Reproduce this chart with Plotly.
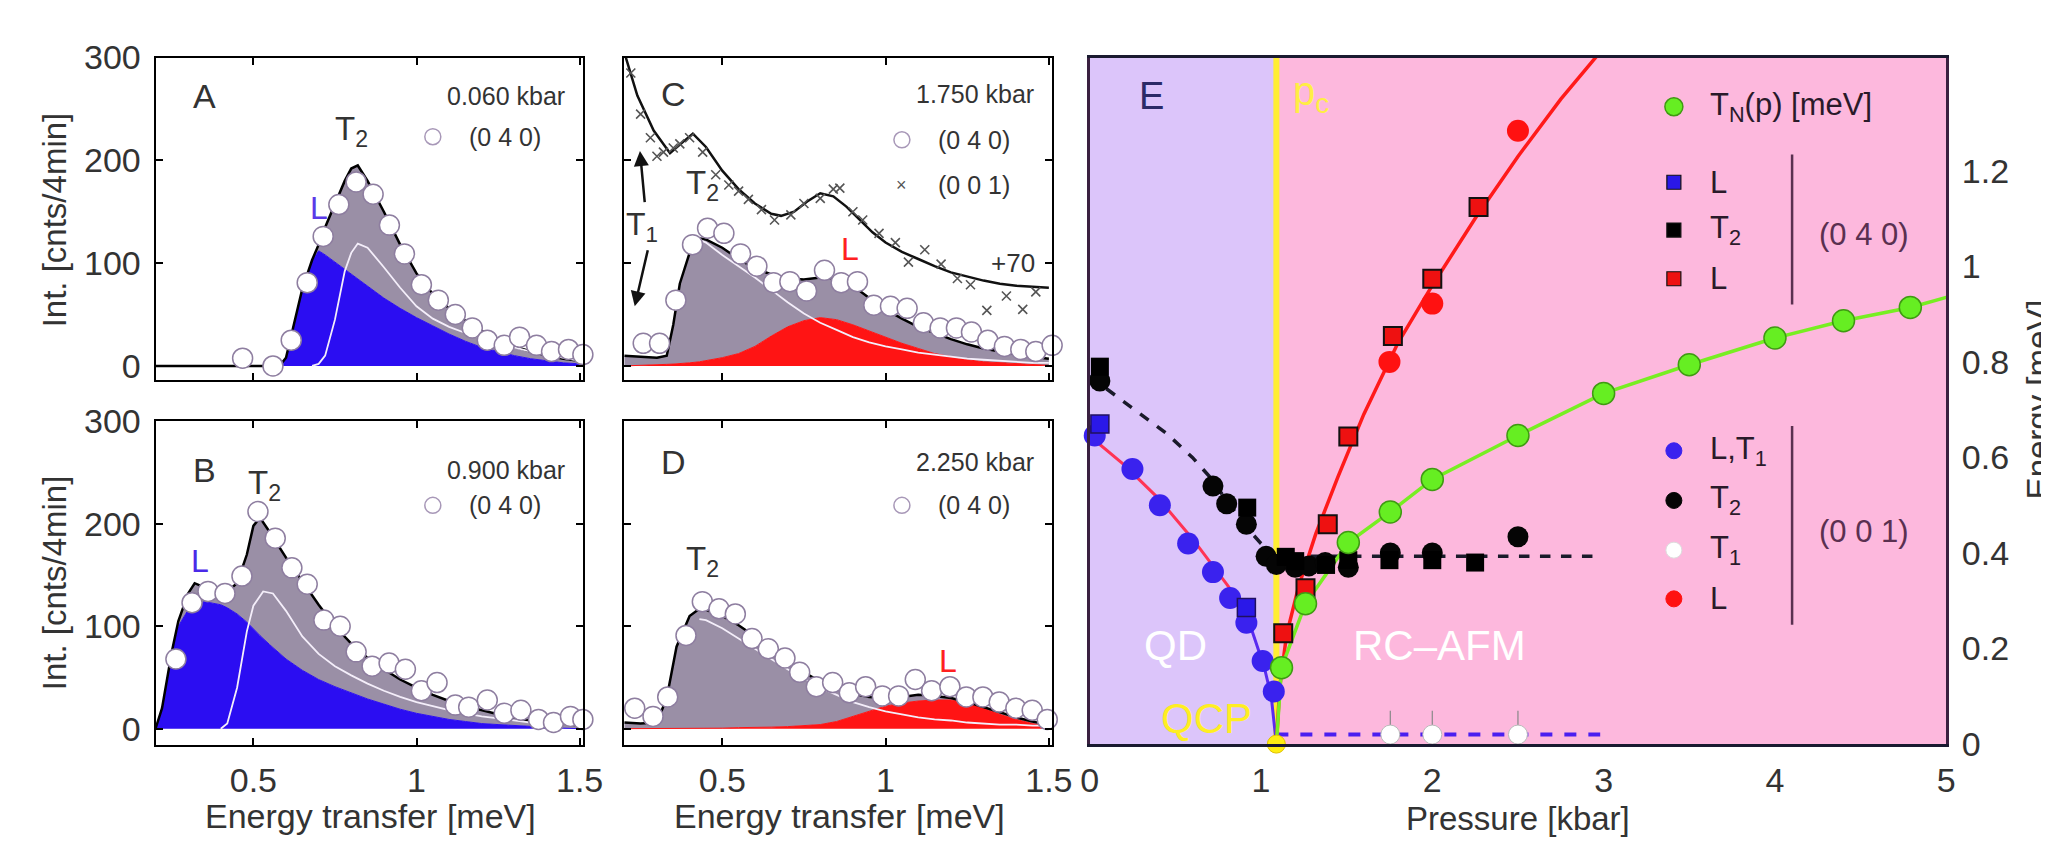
import plotly.graph_objects as go

W, H = 2049, 842
FONT = "Liberation Sans, Arial, sans-serif"
TXT = "#333333"

def px(x): return x / W
def py(y): return 1 - y / H

# ---------------- Panel A (0.060 kbar) ----------------
a_e     = [0.2, 0.3, 0.4, 0.5, 0.55, 0.58, 0.6, 0.62, 0.65, 0.68, 0.7, 0.72, 0.75, 0.78, 0.8, 0.82, 0.85, 0.9, 0.95, 1.0, 1.05, 1.1, 1.15, 1.2, 1.25, 1.3, 1.35, 1.4, 1.45, 1.5]
a_total = [0, 0, 0, 0, 0, 0, 8, 35, 75, 103, 118, 135, 158, 180, 192, 195, 180, 150, 118, 90, 70, 56, 44, 34, 26, 19, 14, 10, 7, 5]
a_L     = [0, 0, 0, 0, 0, 0, 8, 35, 75, 102, 112, 108, 101, 94, 89, 85, 78, 66, 56, 47, 39, 31, 24, 18, 14, 10, 7, 5, 3, 2]
a_t2_e  = [0.68, 0.7, 0.72, 0.75, 0.78, 0.8, 0.82, 0.85, 0.9, 0.95, 1.0, 1.05, 1.1, 1.15, 1.2, 1.25, 1.3, 1.35, 1.4, 1.45, 1.5]
a_t2    = [0, 2, 10, 45, 92, 110, 119, 115, 96, 76, 58, 46, 38, 32, 27, 22, 18, 14, 11, 8, 5]
a_pts_e = [0.467, 0.56, 0.616, 0.665, 0.714, 0.762, 0.815, 0.867, 0.917, 0.963, 1.015, 1.067, 1.119, 1.171, 1.217, 1.269, 1.316, 1.368, 1.414, 1.466, 1.51]
a_pts_i = [7.5, 0, 25, 81, 126, 157, 179, 167, 137, 109, 79, 64, 50, 37, 25, 20, 28, 20, 14, 16, 11]

# ---------------- Panel B (0.900 kbar) ----------------
b_e     = [0.2, 0.22, 0.25, 0.27, 0.3, 0.32, 0.35, 0.4, 0.42, 0.45, 0.48, 0.5, 0.52, 0.55, 0.6, 0.65, 0.7, 0.75, 0.8, 0.85, 0.9, 0.95, 1.0, 1.05, 1.1, 1.15, 1.2, 1.25, 1.3, 1.35, 1.4, 1.45, 1.5]
b_total = [0, 20, 75, 105, 132, 142, 138, 133, 134, 142, 170, 198, 206, 192, 167, 144, 121, 100, 83, 69, 58, 48, 40, 33, 27, 22, 18, 14, 11, 8, 6, 4, 3]
b_L     = [0, 20, 75, 100, 116, 121, 124, 121, 118, 112, 104, 97, 91, 82, 68, 57, 48, 41, 35, 29, 24, 19, 15, 12, 9, 7, 5, 4, 3, 2, 1, 0.5, 0]
b_t2_e  = [0.4, 0.42, 0.45, 0.48, 0.5, 0.53, 0.56, 0.6, 0.65, 0.7, 0.75, 0.8, 0.85, 0.9, 0.95, 1.0, 1.05, 1.1, 1.15, 1.2, 1.25, 1.3, 1.35, 1.4, 1.45, 1.5]
b_t2    = [0, 5, 40, 95, 120, 134, 132, 115, 90, 73, 61, 52, 44, 37, 31, 26, 22, 18, 15, 12, 10, 8, 6, 5, 4, 3]
b_pts_e = [0.2625, 0.312, 0.361, 0.413, 0.465, 0.514, 0.567, 0.618, 0.665, 0.716, 0.766, 0.815, 0.864, 0.916, 0.966, 1.015, 1.063, 1.119, 1.16, 1.217, 1.269, 1.32, 1.374, 1.42, 1.472, 1.51]
b_pts_i = [68, 123, 134, 132, 149, 212, 186, 157, 141, 106, 100, 75, 61, 64, 58, 37, 45, 23, 21, 28, 15, 18, 9, 6, 12, 9]

# ---------------- Panel C (1.750 kbar) ----------------
c_e     = [0.2, 0.25, 0.3, 0.33, 0.35, 0.37, 0.4, 0.43, 0.45, 0.5, 0.55, 0.6, 0.65, 0.7, 0.75, 0.8, 0.85, 0.9, 0.95, 1.0, 1.05, 1.1, 1.15, 1.2, 1.25, 1.3, 1.35, 1.4, 1.45, 1.5]
c_total = [10, 9, 8, 10, 40, 80, 110, 124, 123, 115, 104, 95, 89, 85, 84, 86, 85, 78, 66, 55, 46, 38, 32, 26, 21, 17, 14, 11, 9, 7]
c_L     = [0, 0.3, 1, 1.5, 1.8, 2, 3, 4, 5, 8, 12, 19, 29, 38, 44, 47, 45, 40, 34, 28, 22, 17, 12, 9, 6, 4, 3, 2, 1, 0.5]
c_t2_e  = [0.43, 0.45, 0.5, 0.55, 0.6, 0.65, 0.7, 0.75, 0.8, 0.85, 0.9, 0.95, 1.0, 1.05, 1.1, 1.15, 1.2, 1.25, 1.3, 1.35, 1.4, 1.45, 1.5]
c_t2    = [123, 120, 108, 97, 86, 74, 62, 51, 42, 35, 28, 23, 19, 16, 13, 11, 9, 7, 6, 5, 4, 3, 3]
c_pts_e = [0.258, 0.308, 0.358, 0.409, 0.455, 0.505, 0.556, 0.606, 0.657, 0.707, 0.758, 0.813, 0.864, 0.914, 0.964, 1.015, 1.066, 1.116, 1.167, 1.217, 1.263, 1.313, 1.364, 1.414, 1.46, 1.51]
c_pts_i = [22, 22, 64, 118, 134, 129, 109, 97, 81, 82, 73, 93, 81, 82, 59, 58, 56, 42, 37, 37, 33, 25, 19, 16, 14, 20]
# (0 0 1) scan, shifted by +70
c_fit001_e = [0.2, 0.24, 0.29, 0.34, 0.38, 0.41, 0.45, 0.5, 0.55, 0.6, 0.65, 0.68, 0.72, 0.76, 0.8, 0.84, 0.88, 0.92, 0.96, 1.0, 1.05, 1.1, 1.15, 1.2, 1.25, 1.3, 1.35, 1.4, 1.45, 1.5]
c_fit001_i = [305, 263, 229, 207, 218, 226, 213, 190, 172, 158, 148, 146, 150, 160, 168, 165, 155, 142, 130, 120, 111, 104, 97, 91, 87, 83, 80, 78, 77, 76]
c_x001_e = [0.22, 0.25, 0.28, 0.30, 0.32, 0.35, 0.37, 0.40, 0.44, 0.48, 0.52, 0.55, 0.58, 0.62, 0.66, 0.71, 0.75, 0.80, 0.84, 0.86, 0.90, 0.93, 0.98, 1.03, 1.07, 1.12, 1.17, 1.22, 1.26, 1.31, 1.37, 1.42, 1.46]
c_x001_i = [285, 245, 222, 204, 208, 212, 216, 222, 208, 186, 176, 170, 162, 152, 142, 147, 158, 163, 172, 173, 150, 142, 129, 120, 101, 113, 99, 85, 79, 54, 68, 55, 72]

# ---------------- Panel D (2.250 kbar) ----------------
d_e     = [0.2, 0.25, 0.3, 0.33, 0.36, 0.4, 0.43, 0.45, 0.5, 0.55, 0.6, 0.65, 0.7, 0.75, 0.8, 0.85, 0.9, 0.95, 1.0, 1.05, 1.1, 1.15, 1.2, 1.25, 1.3, 1.35, 1.4, 1.45, 1.5]
d_total = [6, 5, 6, 30, 80, 110, 117, 116, 110, 101, 90, 78, 66, 55, 46, 39, 34, 31, 30, 31, 33, 32, 30, 26, 21, 16, 11, 7, 4]
d_L     = [0, 0, 0, 0, 0, 0.5, 0.5, 0.5, 0.5, 1, 1, 1.5, 2, 3, 4, 7, 12, 17, 22, 25, 27, 28, 28, 25, 20, 14, 9, 5, 2]
d_t2_e  = [0.43, 0.45, 0.5, 0.55, 0.6, 0.65, 0.7, 0.75, 0.8, 0.85, 0.9, 0.95, 1.0, 1.05, 1.1, 1.15, 1.2, 1.25, 1.3, 1.35, 1.4, 1.45, 1.5]
d_t2    = [107, 106, 98, 88, 78, 68, 58, 49, 40, 33, 26, 21, 17, 14, 11, 9, 8, 6, 5, 4, 4, 3, 3]
d_pts_e = [0.232, 0.288, 0.333, 0.389, 0.439, 0.49, 0.54, 0.591, 0.641, 0.692, 0.737, 0.788, 0.838, 0.889, 0.939, 0.99, 1.04, 1.091, 1.141, 1.197, 1.247, 1.298, 1.348, 1.399, 1.449, 1.495]
d_pts_i = [20, 12, 31, 91, 124, 117, 112, 88, 78, 69, 55, 41, 45, 35, 41, 32, 32, 48, 37, 41, 31, 31, 26, 20, 18, 9]

# ---------------- Panel E (phase diagram) ----------------
p_c = 1.09
e_blue_fit_p  = [0.0, 0.2, 0.4, 0.6, 0.8, 0.86]
e_blue_fit_E  = [0.645, 0.585, 0.515, 0.43, 0.335, 0.305]
e_blue_fit2_p = [0.86, 0.95, 1.02, 1.06, 1.09]
e_blue_fit2_E = [0.305, 0.235, 0.16, 0.10, 0.0]
e_t2_fit_p = [0.0, 0.15, 0.3, 0.45, 0.6, 0.7, 0.8, 0.9, 1.0, 1.09, 1.5, 2.0, 2.5, 2.95]
e_t2_fit_E = [0.77, 0.73, 0.69, 0.65, 0.60, 0.56, 0.51, 0.46, 0.42, 0.393, 0.393, 0.393, 0.393, 0.393]
e_t1_fit_p = [1.09, 2.98]
e_t1_fit_E = [0.02, 0.02]
e_red_fit_p = [1.09, 1.11, 1.15, 1.22, 1.32, 1.45, 1.6, 1.8, 2.0, 2.25, 2.5, 2.75, 2.96]
e_red_fit_E = [0.0, 0.12, 0.23, 0.33, 0.44, 0.56, 0.69, 0.84, 0.96, 1.10, 1.23, 1.35, 1.44]
e_tn_fit_p = [1.09, 1.12, 1.26, 1.51, 1.755, 2.0, 2.5, 3.0, 3.5, 4.0, 4.4, 4.79, 5.0]
e_tn_fit_E = [0.0, 0.16, 0.294, 0.422, 0.486, 0.554, 0.646, 0.734, 0.794, 0.85, 0.886, 0.914, 0.935]

e_blue_c_p = [0.03, 0.25, 0.41, 0.575, 0.72, 0.82, 0.915, 1.01, 1.075]
e_blue_c_E = [0.646, 0.576, 0.50, 0.42, 0.36, 0.306, 0.254, 0.174, 0.11]
e_blue_s_p = [0.06, 0.915]
e_blue_s_E = [0.67, 0.286]
e_black_c_p = [0.06, 0.72, 0.80, 0.915, 1.03, 1.09, 1.2, 1.28, 1.375, 1.51, 1.755, 2.0, 2.5]
e_black_c_E = [0.76, 0.54, 0.503, 0.46, 0.393, 0.376, 0.37, 0.373, 0.38, 0.37, 0.40, 0.40, 0.434]
e_black_s_p = [0.06, 0.92, 1.145, 1.2, 1.38, 1.51, 1.75, 2.0, 2.25]
e_black_s_E = [0.79, 0.495, 0.392, 0.383, 0.375, 0.385, 0.385, 0.385, 0.38]
e_white_c_p = [1.755, 2.0, 2.5]
e_white_c_E = [0.02, 0.02, 0.02]
e_white_err = [0.05, 0.05, 0.05]
e_red_c_p = [1.75, 2.0, 2.5]
e_red_c_E = [0.80, 0.922, 1.284]
e_red_s_p = [1.13, 1.26, 1.39, 1.51, 1.77, 2.0, 2.27]
e_red_s_E = [0.232, 0.326, 0.46, 0.644, 0.854, 0.974, 1.124]
e_tn_p = [1.12, 1.26, 1.51, 1.755, 2.0, 2.5, 3.0, 3.5, 4.0, 4.4, 4.79]
e_tn_E = [0.16, 0.294, 0.422, 0.486, 0.554, 0.646, 0.734, 0.794, 0.85, 0.886, 0.914]
e_qcp_p = [p_c]
e_qcp_E = [0.0]

GRAY = "#9a8fa6"
BLUE = "#2b0df2"
RED = "#ff1414"

fig = go.Figure()

def add_spectrum(xa, ya, ex, tot, L, comp_col, t2x, t2y, ptx, pty):
    fig.add_trace(go.Scatter(x=ex, y=L, xaxis=xa, yaxis=ya, mode="lines", fill="tozeroy",
                             fillcolor=comp_col, line=dict(color=comp_col, width=1), hoverinfo="skip"))
    fig.add_trace(go.Scatter(x=ex, y=tot, xaxis=xa, yaxis=ya, mode="lines", fill="tonexty",
                             fillcolor=GRAY, line=dict(color="black", width=2.5), hoverinfo="skip"))
    fig.add_trace(go.Scatter(x=t2x, y=t2y, xaxis=xa, yaxis=ya, mode="lines",
                             line=dict(color="#f4eefa", width=1.8), hoverinfo="skip"))
    fig.add_trace(go.Scatter(x=ptx, y=pty, xaxis=xa, yaxis=ya, mode="markers", cliponaxis=False,
                             marker=dict(size=20, color="white", line=dict(color="#8e7ea0", width=1.5))))

add_spectrum("x", "y", a_e, a_total, a_L, BLUE, a_t2_e, a_t2, a_pts_e, a_pts_i)
add_spectrum("x2", "y2", b_e, b_total, b_L, BLUE, b_t2_e, b_t2, b_pts_e, b_pts_i)
fig.add_trace(go.Scatter(x=c_fit001_e, y=c_fit001_i, xaxis="x3", yaxis="y3", mode="lines",
                         line=dict(color="#111111", width=2.5), hoverinfo="skip"))
fig.add_trace(go.Scatter(x=c_x001_e, y=c_x001_i, xaxis="x3", yaxis="y3", mode="markers",
                         marker=dict(symbol="x-thin", size=9, line=dict(color="#555555", width=1.6))))
add_spectrum("x3", "y3", c_e, c_total, c_L, RED, c_t2_e, c_t2, c_pts_e, c_pts_i)
add_spectrum("x4", "y4", d_e, d_total, d_L, RED, d_t2_e, d_t2, d_pts_e, d_pts_i)

def eline(xs, ys, color, width=3, dash=None):
    fig.add_trace(go.Scatter(x=xs, y=ys, xaxis="x5", yaxis="y5", mode="lines",
                             line=dict(color=color, width=width, dash=dash), hoverinfo="skip"))

def emark(xs, ys, symbol, size, color, lcolor, lw=1.5, err=None):
    kw = {}
    if err is not None:
        kw["error_y"] = dict(type="data", array=err, arrayminus=[0] * len(err), color="#888888",
                             thickness=1.2, width=0)
    fig.add_trace(go.Scatter(x=xs, y=ys, xaxis="x5", yaxis="y5", mode="markers", cliponaxis=False,
                             marker=dict(symbol=symbol, size=size, color=color,
                                         line=dict(color=lcolor, width=lw)), **kw))

eline(e_blue_fit_p, e_blue_fit_E, "#ff3355", 3)
eline(e_blue_fit2_p, e_blue_fit2_E, "#5a2af0", 3)
eline(e_t2_fit_p, e_t2_fit_E, "#1a1a2a", 3.5, "dash")
eline(e_t1_fit_p, e_t1_fit_E, "#4a1ef0", 4, "dash")
eline(e_red_fit_p, e_red_fit_E, "#ff1a1a", 3.5)
eline(e_tn_fit_p, e_tn_fit_E, "#77ee22", 3.5)

emark(e_blue_c_p, e_blue_c_E, "circle", 22, "#3a22ee", "#3a22ee", 0)
emark(e_blue_s_p, e_blue_s_E, "square", 18, "#2a18e8", "#201060", 1.5)
emark(e_black_c_p, e_black_c_E, "circle", 21, "#050505", "#050505", 0)
emark(e_black_s_p, e_black_s_E, "square", 18, "#000000", "#000000", 0)
emark(e_white_c_p, e_white_c_E, "circle", 19, "white", "#bbbbbb", 1, e_white_err)
emark(e_red_c_p, e_red_c_E, "circle", 22, "#ff1111", "#ff1111", 0)
emark(e_red_s_p, e_red_s_E, "square", 18, "#ee1111", "#111111", 2)
emark(e_tn_p, e_tn_E, "circle", 22, "#66ee22", "#3f9a12", 1.5)
emark(e_qcp_p, e_qcp_E, "circle", 18, "#ffee11", "#e0c000", 1)

AX = dict(showline=True, linecolor="black", linewidth=2, mirror="ticks", ticks="inside",
          ticklen=7, tickwidth=1.5, tickcolor="black", showgrid=False, zeroline=False,
          tickfont=dict(family=FONT, size=34, color=TXT))
XR = [0.2, 1.51]
xdomL = [px(140.5), px(574)]
xdomR = [px(616), px(1050)]
ydomT = [py(370), py(32)]
ydomB = [py(752), py(413)]
xt = dict(tickvals=[0.5, 1, 1.5], ticktext=["0.5", "1", "1.5"])
yt = dict(tickvals=[0, 100, 200, 300], ticktext=["0", "100", "200", "300"])

layout = dict(
    width=W, height=H, margin=dict(l=0, r=0, t=0, b=0),
    paper_bgcolor="white", plot_bgcolor="white", showlegend=False,
    font=dict(family=FONT, color=TXT, size=30),
    xaxis=dict(AX, domain=xdomL, range=XR, anchor="y", showticklabels=False, **xt),
    yaxis=dict(AX, domain=ydomT, range=[-14, 300], anchor="x", ticklabelstandoff=6, **yt),
    xaxis2=dict(AX, domain=xdomL, range=XR, anchor="y2", ticklabelstandoff=4, **xt),
    yaxis2=dict(AX, domain=ydomB, range=[-16, 300], anchor="x2", ticklabelstandoff=6, **yt),
    xaxis3=dict(AX, domain=xdomR, range=XR, anchor="y3", showticklabels=False, **xt),
    yaxis3=dict(AX, domain=ydomT, range=[-14, 300], anchor="x3", showticklabels=False, **yt),
    xaxis4=dict(AX, domain=xdomR, range=XR, anchor="y4", ticklabelstandoff=4, **xt),
    yaxis4=dict(AX, domain=ydomB, range=[-16, 300], anchor="x4", showticklabels=False, **yt),
    xaxis5=dict(domain=[px(1088), px(1957)], range=[0, 5], anchor="y5", showline=True, mirror=True,
                linecolor="#1a1a30", linewidth=2.5, ticks="", showgrid=False, zeroline=False,
                tickvals=[0, 1, 2, 3, 4, 5], ticktext=["0", "1", "2", "3", "4", "5"],
                ticklabelstandoff=4, tickfont=dict(family=FONT, size=34, color=TXT)),
    yaxis5=dict(domain=[py(751), py(32)], range=[0, 1.437], anchor="x5", side="right",
                showline=True, mirror=True, linecolor="#3a2040", linewidth=2.5, ticks="",
                showgrid=False, zeroline=False,
                tickvals=[0, 0.2, 0.4, 0.6, 0.8, 1.0, 1.2],
                ticktext=["0", "0.2", "0.4", "0.6", "0.8", "1", "1.2"],
                ticklabelstandoff=6, tickfont=dict(family=FONT, size=34, color=TXT)),
)

shapes = []
shapes.append(dict(type="rect", xref="x5", yref="y5", x0=0, x1=p_c, y0=0, y1=1.437,
                   fillcolor="#dcc5fa", line=dict(width=0), layer="below"))
shapes.append(dict(type="rect", xref="x5", yref="y5", x0=p_c, x1=5, y0=0, y1=1.437,
                   fillcolor="#fdb8dd", line=dict(width=0), layer="below"))
shapes.append(dict(type="line", xref="x5", yref="y5", x0=p_c, x1=p_c, y0=0, y1=1.437,
                   line=dict(color="#ffee33", width=6), layer="below"))

def circ(xref, yref, xc, yc, r, fill, lcol, lw=1.5):
    return dict(type="circle", xref=xref, yref=yref, xsizemode="pixel", ysizemode="pixel",
                xanchor=xc, yanchor=yc, x0=-r, x1=r, y0=-r, y1=r,
                fillcolor=fill, line=dict(color=lcol, width=lw))

def sq(xref, yref, xc, yc, r, fill, lcol, lw=1.5):
    d = circ(xref, yref, xc, yc, r, fill, lcol, lw)
    d["type"] = "rect"
    return d

ann = []
def text(t, x, y, xref, yref, size, color=TXT, xanchor="center", yanchor="middle", angle=0):
    ann.append(dict(text=t, x=x, y=y, xref=xref, yref=yref, showarrow=False,
                    font=dict(family=FONT, size=size, color=color),
                    xanchor=xanchor, yanchor=yanchor, textangle=angle))

panels = [("x", "y", "A", "0.060 kbar", 263, 223),
          ("x2", "y2", "B", "0.900 kbar", 253, 218),
          ("x3", "y3", "C", "1.750 kbar", 265, 220),
          ("x4", "y4", "D", "2.250 kbar", 260, 218)]
for xr, yr, letter, kbar, ylab, ycirc in panels:
    text(letter, 0.35, ylab, xr, yr, 34)
    text(kbar, 1.46, ylab, xr, yr, 25, xanchor="right")
    shapes.append(circ(xr, yr, 1.05, ycirc, 8, "white", "#a898b8", 1.5))
    text("(0 4 0)", 1.155, ycirc, xr, yr, 25, xanchor="left")

text("T<sub>2</sub>", 0.80, 229, "x", "y", 33)
text("L", 0.70, 154, "x", "y", 32, color="#5a3ae8")
text("T<sub>2</sub>", 0.534, 238, "x2", "y2", 33)
text("L", 0.335, 164, "x2", "y2", 32, color="#4a2ae8")
text("T<sub>2</sub>", 0.44, 176, "x3", "y3", 33)
text("L", 0.89, 114, "x3", "y3", 32, color="#ff2020")
text("T<sub>2</sub>", 0.44, 164, "x4", "y4", 33)
text("L", 1.19, 66, "x4", "y4", 32, color="#ff2020")
text("+70", 1.465, 100, "x3", "y3", 26, xanchor="right")
text("×", 1.05, 176, "x3", "y3", 18, color="#555555")
text("(0 0 1)", 1.155, 176, "x3", "y3", 25, xanchor="left")
text("T<sub>1</sub>", 0.253, 136, "x3", "y3", 32)
ann.append(dict(x=0.248, y=209, ax=0.263, ay=158, xref="x3", yref="y3", axref="x3", ayref="y3",
                showarrow=True, arrowhead=2, arrowsize=1.2, arrowwidth=2.5, arrowcolor="#111111",
                text="", font=dict(size=10)))
ann.append(dict(x=0.232, y=58, ax=0.273, ay=114, xref="x3", yref="y3", axref="x3", ayref="y3",
                showarrow=True, arrowhead=2, arrowsize=1.2, arrowwidth=2.5, arrowcolor="#111111",
                text="", font=dict(size=10)))

text("Int. [cnts/4min]", px(38), py(202), "paper", "paper", 33, angle=-90)
text("Int. [cnts/4min]", px(38), py(582), "paper", "paper", 33, angle=-90)
text("Energy transfer [meV]", px(359), py(826), "paper", "paper", 34)
text("Energy transfer [meV]", px(834), py(826), "paper", "paper", 34)
text("Pressure [kbar]", px(1523), py(829), "paper", "paper", 33)
text("Energy [meV]", px(2050), py(390), "paper", "paper", 33, angle=-90)

text("E", 0.36, 1.356, "x5", "y5", 38, color="#2b2a66")
text("p<sub>c</sub>", 1.29, 1.36, "x5", "y5", 40, color="#ffee44")
text("QD", 0.5, 0.206, "x5", "y5", 42, color="white")
text("RC–AFM", 2.04, 0.206, "x5", "y5", 42, color="white")
text("QCP", 0.685, 0.054, "x5", "y5", 42, color="#ffee22")

LX, TX = 3.41, 3.61
shapes.append(circ("x5", "y5", LX, 1.334, 9, "#66ee22", "#3f9a12"))
text("T<sub>N</sub>(p) [meV]", TX, 1.334, "x5", "y5", 31, color="#2a1a2a", xanchor="left")
for yy, col, lab in [(1.176, "#2a18e8", "L"), (1.076, "#000000", "T<sub>2</sub>"), (0.974, "#ee1111", "L")]:
    shapes.append(sq("x5", "y5", LX, yy, 7, col, "#111111", 1.2))
    text(lab, TX, yy, "x5", "y5", 31, color="#2a1a2a", xanchor="left")
for yy, col, lab in [(0.614, "#3a22ee", "L,T<sub>1</sub>"), (0.51, "#050505", "T<sub>2</sub>"),
                     (0.406, "white", "T<sub>1</sub>"), (0.304, "#ff1111", "L")]:
    shapes.append(circ("x5", "y5", LX, yy, 8, col, col if col != "white" else "#dddddd", 1))
    text(lab, TX, yy, "x5", "y5", 31, color="#2a1a2a", xanchor="left")
shapes.append(dict(type="line", xref="x5", yref="y5", x0=4.10, x1=4.10, y0=0.92, y1=1.234,
                   line=dict(color="#5a3050", width=2.5)))
shapes.append(dict(type="line", xref="x5", yref="y5", x0=4.10, x1=4.10, y0=0.25, y1=0.666,
                   line=dict(color="#5a3050", width=2.5)))
text("(0 4 0)", 4.52, 1.066, "x5", "y5", 31, color="#5a3050")
text("(0 0 1)", 4.52, 0.446, "x5", "y5", 31, color="#5a3050")

layout["shapes"] = shapes
layout["annotations"] = ann
fig.update_layout(**layout)
fig.write_html("out.html")
